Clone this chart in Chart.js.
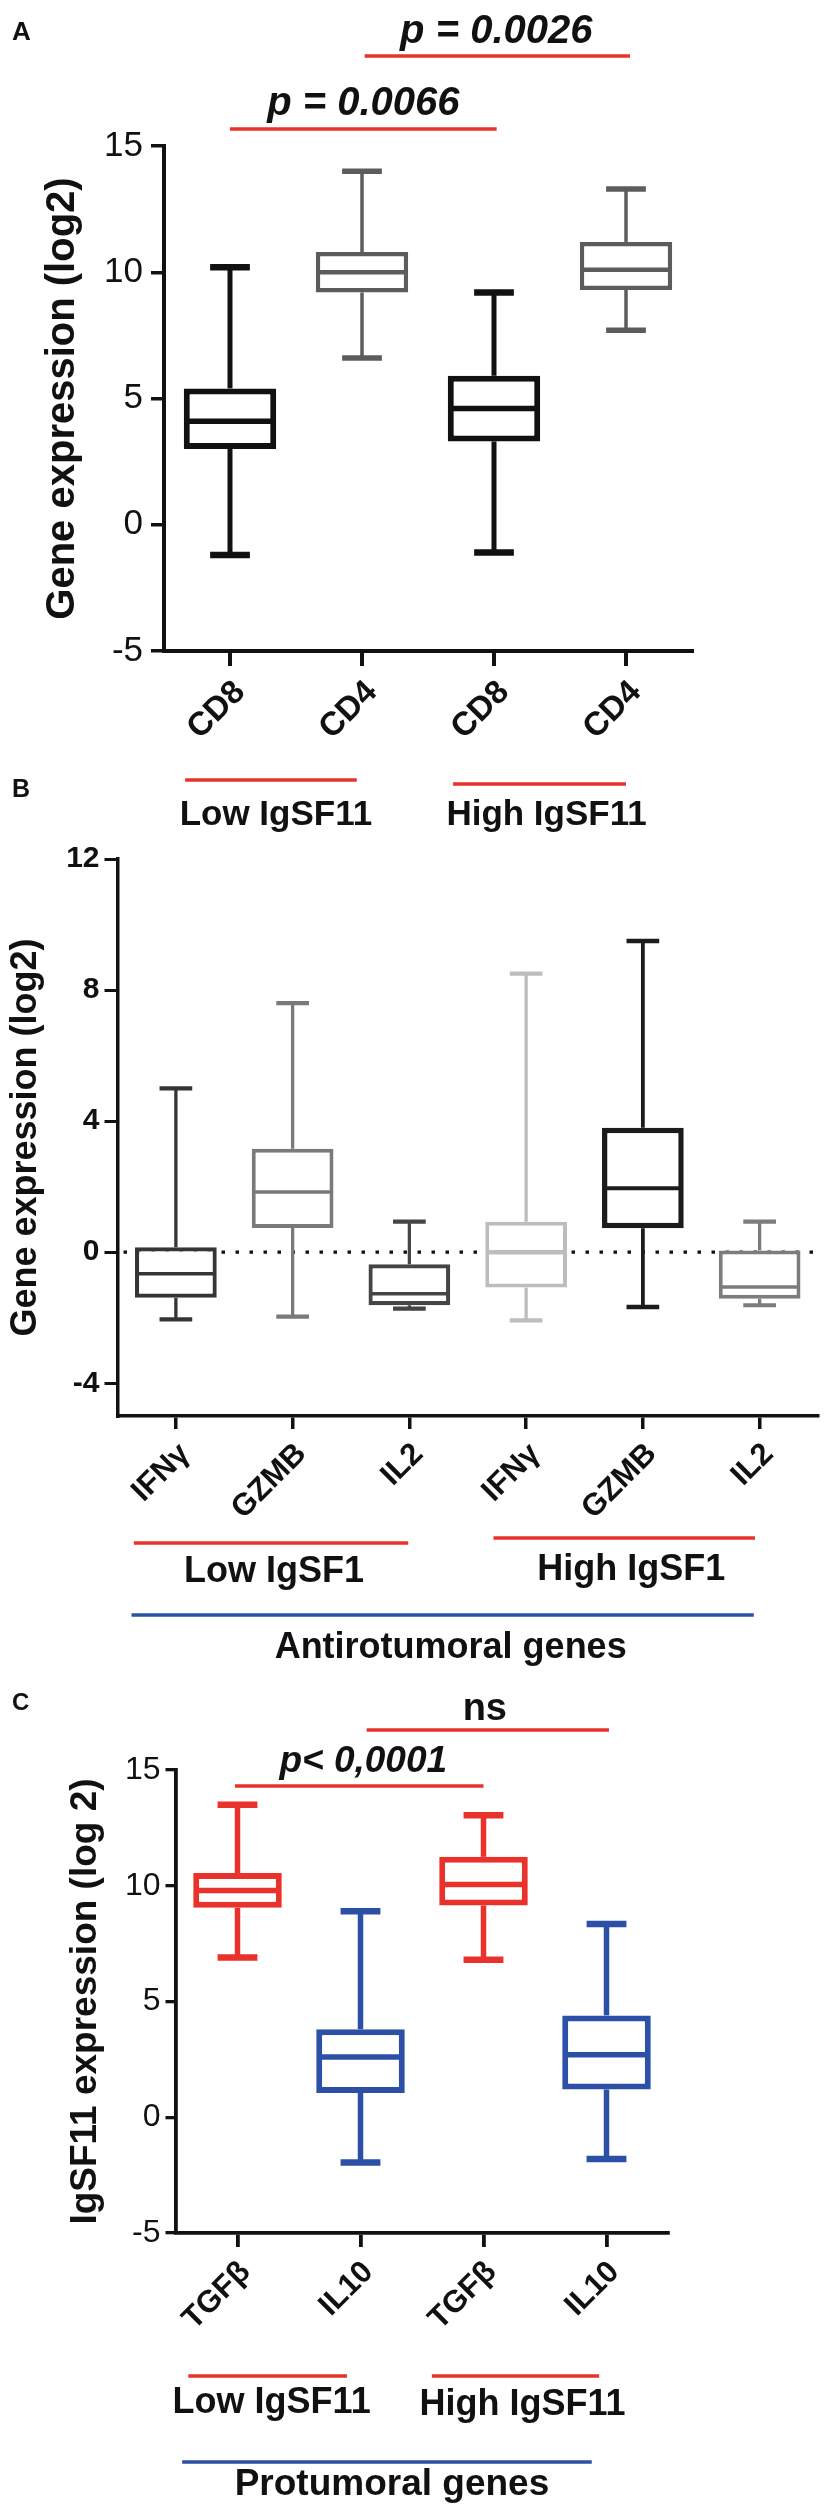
<!DOCTYPE html>
<html>
<head>
<meta charset="utf-8">
<script src="https://cdn.jsdelivr.net/npm/chart.js@4.4.1/dist/chart.umd.min.js"></script>
<style>
  html, body { margin: 0; padding: 0; background: #fff; overflow: hidden; }
  .panel { position: absolute; left: 0; width: 828px; }
  canvas { display: block; }
</style>
</head>
<body>
<div class="panel" style="top:0px"><canvas id="chartA" width="828" height="850"></canvas></div>
<div class="panel" style="top:770px"><canvas id="chartB" width="828" height="910"></canvas></div>
<div class="panel" style="top:1670px"><canvas id="chartC" width="828" height="845"></canvas></div>
<script>
const FONT = "'Liberation Sans', Arial, Helvetica, sans-serif";

// Panel A - CD8 / CD4
const catsA = ['CD8', 'CD4', 'CD8', 'CD4'];
const minA = [-1.2, 6.6, -1.1, 7.7];
const q1A = [3.0, 9.2, 3.3, 9.3];
const medA = [4.1, 10.0, 4.6, 10.1];
const q3A = [5.4, 10.8, 5.9, 11.2];
const maxA = [10.2, 14.0, 9.2, 13.3];
const yTicksA = [-5, 0, 5, 10, 15];

// Panel B - antitumoral genes
const catsB = ['IFNγ', 'GZMB', 'IL2', 'IFNγ', 'GZMB', 'IL2'];
const minB = [-2.05, -1.97, -1.72, -2.08, -1.67, -1.62];
const q1B = [-1.39, 0.74, -1.62, -1.08, 0.73, -1.42];
const medB = [-0.66, 1.84, -1.27, 0.0, 1.95, -1.06];
const q3B = [0.15, 3.16, -0.37, 0.93, 3.8, 0.05];
const maxB = [5.0, 7.6, 0.93, 8.5, 9.5, 0.93];
const yTicksB = [-4, 0, 4, 8, 12];

// Panel C - protumoral genes
const catsC = ['TGFβ', 'IL10', 'TGFβ', 'IL10'];
const minC = [6.9, -1.95, 6.8, -1.8];
const q1C = [9.05, 1.05, 9.15, 1.2];
const medC = [9.8, 2.6, 10.05, 2.7];
const q3C = [10.55, 3.8, 11.25, 4.4];
const maxC = [13.5, 8.9, 13.05, 8.35];
const yTicksC = [-5, 0, 5, 10, 15];

const RED = '#e8322b';
const BLUE = '#2d50a7';

// whiskers, caps and medians on top of the floating bars
const boxWhiskers = {
  id: 'boxWhiskers',
  beforeDatasetsDraw(chart, args, o) {
    if (o.zeroLine === undefined) return;
    const {ctx, chartArea} = chart;
    const y0 = chart.scales.y.getPixelForValue(o.zeroLine);
    ctx.save();
    ctx.strokeStyle = '#111';
    ctx.lineWidth = 3.3;
    ctx.setLineDash([3.5, 10.5]);
    ctx.beginPath();
    ctx.moveTo(chartArea.left + 6, y0);
    ctx.lineTo(chartArea.right, y0);
    ctx.stroke();
    ctx.restore();
  },
  afterDatasetsDraw(chart, args, o) {
    const {ctx} = chart;
    const y = chart.scales.y;
    const meta = chart.getDatasetMeta(0);
    const seg = (x1, y1, x2, y2) => { ctx.beginPath(); ctx.moveTo(x1, y1); ctx.lineTo(x2, y2); ctx.stroke(); };
    meta.data.forEach((bar, i) => {
      const half = bar.width / 2;
      const cap = bar.width * o.cap / 2;
      const yMin = y.getPixelForValue(o.min[i]);
      const yMax = y.getPixelForValue(o.max[i]);
      const yQ1 = y.getPixelForValue(o.q1[i]);
      const yQ3 = y.getPixelForValue(o.q3[i]);
      const yMed = y.getPixelForValue(o.med[i]);
      ctx.save();
      ctx.strokeStyle = o.colors[i];
      ctx.lineWidth = o.stem[i];
      seg(bar.x, yQ3, bar.x, yMax);
      seg(bar.x, yQ1, bar.x, yMin);
      ctx.lineWidth = o.capW[i];
      seg(bar.x - cap, yMax, bar.x + cap, yMax);
      seg(bar.x - cap, yMin, bar.x + cap, yMin);
      ctx.lineWidth = o.medW[i];
      seg(bar.x - half + 1, yMed, bar.x + half - 1, yMed);
      ctx.restore();
    });
  }
};

// p-value brackets, group bars and panel letters
const annotate = {
  id: 'annotate',
  afterDraw(chart, args, o) {
    const {ctx} = chart;
    const x = chart.scales.x;
    ctx.save();
    o.lines.forEach(l => {
      const x1 = x.getPixelForValue(l.from);
      const x2 = x.getPixelForValue(l.to);
      ctx.strokeStyle = l.color;
      ctx.lineWidth = 3.5;
      ctx.beginPath();
      ctx.moveTo(x1, l.y);
      ctx.lineTo(x2, l.y);
      ctx.stroke();
      if (l.text) {
        ctx.fillStyle = '#111';
        ctx.font = l.font;
        ctx.textAlign = 'center';
        ctx.textBaseline = l.baseline || 'middle';
        ctx.fillText(l.text, (x1 + x2) / 2 + (l.dx || 0), l.textY);
      }
    });
    ctx.fillStyle = '#111';
    ctx.font = o.tagFont;
    ctx.textAlign = 'left';
    ctx.textBaseline = 'middle';
    ctx.fillText(o.tag, 12, o.tagY);
    ctx.restore();
  }
};

function boxChart(id, p) {
  return new Chart(document.getElementById(id), {
    type: 'bar',
    data: {
      labels: p.cats,
      datasets: [{
        data: p.q1.map((v, i) => [v, p.q3[i]]),
        backgroundColor: '#ffffff',
        borderColor: p.colors,
        borderWidth: p.boxW,
        borderSkipped: false,
        barPercentage: p.barPct,
        categoryPercentage: 1
      }]
    },
    options: {
      responsive: false,
      animation: false,
      events: [],
      layout: { padding: p.padding },
      plugins: {
        legend: { display: false },
        tooltip: { enabled: false },
        boxWhiskers: {
          min: p.min, q1: p.q1, med: p.med, q3: p.q3, max: p.max,
          colors: p.colors, stem: p.stem, capW: p.capW, medW: p.medW,
          cap: p.cap, zeroLine: p.zeroLine
        },
        annotate: { lines: p.lines, tag: p.tag, tagY: p.tagY, tagFont: p.tagFont }
      },
      scales: {
        x: {
          grid: { offset: false, drawOnChartArea: false, drawTicks: true,
                  tickLength: p.xTickLen, lineWidth: p.axisW, color: '#111' },
          border: { color: '#111', width: p.axisW },
          ticks: { color: '#111', font: p.xFont, minRotation: 45, maxRotation: 45,
                   padding: p.xPad, labelOffset: p.xShift, autoSkip: false },
          afterFit(s) { s.height = p.xHeight; }
        },
        y: {
          min: p.yMin,
          max: p.yMax,
          afterBuildTicks(s) { s.ticks = p.yTicks.map(v => ({ value: v })); },
          grid: { drawOnChartArea: false, drawTicks: true, tickLength: p.yTickLen,
                  lineWidth: p.axisW - 0.5, color: '#111' },
          border: { color: '#111', width: p.axisW },
          ticks: { color: '#111', font: p.yFont, padding: p.yPad },
          title: { display: true, text: p.yTitle, color: '#111', font: p.titleFont,
                   padding: { top: p.titlePad, bottom: 0 } },
          afterFit(s) { s.width = p.yWidth; }
        }
      }
    },
    plugins: [boxWhiskers, annotate]
  });
}

boxChart('chartA', {
  cats: catsA, min: minA, q1: q1A, med: medA, q3: q3A, max: maxA, yTicks: yTicksA,
  yMin: -5, yMax: 15,
  colors: ['#111111', '#5c5c5c', '#111111', '#5c5c5c'],
  boxW: [6, 4.5, 6, 4.5], stem: [5, 3.5, 5, 3.5], capW: [6.5, 5.5, 6.5, 5.5], medW: [5.5, 4.5, 5.5, 4.5],
  barPct: 0.7, cap: 0.43,
  padding: { top: 146, bottom: 94, left: 0, right: 136 },
  yWidth: 164, xHeight: 105,
  xTickLen: 15, yTickLen: 13, axisW: 4, xPad: 7, xShift: 10, yPad: 8,
  xFont: { family: FONT, size: 33, weight: 'bold' },
  yFont: { family: FONT, size: 35 },
  yTitle: 'Gene expression (log2)',
  titleFont: { family: FONT, size: 40, weight: 'bold' }, titlePad: 39.4,
  tag: 'A', tagY: 33, tagFont: 'bold 26px ' + FONT,
  lines: [
    { from: 0, to: 2.02, y: 129, color: RED, text: 'p = 0.0066', textY: 115, baseline: 'alphabetic',
      font: 'italic bold 40px ' + FONT, dx: 0 },
    { from: 1.02, to: 3.03, y: 56, color: RED, text: 'p = 0.0026', textY: 43, baseline: 'alphabetic',
      font: 'italic bold 40px ' + FONT, dx: -1 },
    { from: -0.34, to: 0.96, y: 780, color: RED, text: 'Low IgSF11', textY: 815,
      font: 'bold 35px ' + FONT, dx: 5 },
    { from: 1.69, to: 3.0, y: 784, color: RED, text: 'High IgSF11', textY: 815,
      font: 'bold 35px ' + FONT, dx: 7 }
  ]
});

boxChart('chartB', {
  cats: catsB, min: minB, q1: q1B, med: medB, q3: q3B, max: maxB, yTicks: yTicksB,
  yMin: -5, yMax: 12,
  colors: ['#353535', '#7a7a7a', '#454545', '#bdbdbd', '#1c1c1c', '#7c7c7c'],
  boxW: [4.2, 4, 4.2, 4, 5.5, 4], stem: [3.3, 3.3, 3.3, 3.3, 3.8, 3.3], capW: [4.2, 4.2, 4.2, 4.2, 4.5, 4.2],
  medW: [3.5, 3.5, 3.5, 4.5, 4, 3.5],
  barPct: 0.7, cap: 0.4, zeroLine: 0,
  padding: { top: 89, bottom: 149, left: 0, right: 10 },
  yWidth: 117.5, xHeight: 115,
  xTickLen: 13, yTickLen: 13, axisW: 3.5, xPad: 7, xShift: 9, yPad: 5,
  xFont: { family: FONT, size: 31, weight: 'bold' },
  yFont: { family: FONT, size: 30, weight: 'bold' },
  yTitle: 'Gene expression (log2)',
  titleFont: { family: FONT, size: 36, weight: 'bold' }, titlePad: 4.5,
  tag: 'B', tagY: 20, tagFont: 'bold 25px ' + FONT,
  lines: [
    { from: -0.36, to: 1.99, y: 773, color: RED, text: 'Low IgSF1', textY: 802,
      font: 'bold 36px ' + FONT, dx: 3 },
    { from: 2.72, to: 4.96, y: 768, color: RED, text: 'High IgSF1', textY: 800,
      font: 'bold 36px ' + FONT, dx: 7 },
    { from: -0.38, to: 4.95, y: 845, color: BLUE, text: 'Antirotumoral genes', textY: 878,
      font: 'bold 36px ' + FONT, dx: 8 }
  ]
});

boxChart('chartC', {
  cats: catsC, min: minC, q1: q1C, med: medC, q3: q3C, max: maxC, yTicks: yTicksC,
  yMin: -5, yMax: 15,
  colors: [RED, BLUE, RED, BLUE],
  boxW: [6, 6, 6, 6], stem: [5.5, 5.5, 5.5, 5.5], capW: [6.5, 6.5, 6.5, 6.5], medW: [5.5, 5.5, 5.5, 5.5],
  barPct: 0.72, cap: 0.45,
  padding: { top: 100, bottom: 177, left: 0, right: 160 },
  yWidth: 176, xHeight: 105,
  xTickLen: 14, yTickLen: 10.5, axisW: 3.8, xPad: 7, xShift: 8, yPad: 5,
  xFont: { family: FONT, size: 31, weight: 'bold' },
  yFont: { family: FONT, size: 32 },
  yTitle: 'IgSF11 expression (log 2)',
  titleFont: { family: FONT, size: 37, weight: 'bold' }, titlePad: 63.8,
  tag: 'C', tagY: 33, tagFont: 'bold 24px ' + FONT,
  lines: [
    { from: 1.05, to: 3.02, y: 60, color: RED, text: 'ns', textY: 50, baseline: 'alphabetic',
      font: 'bold 38px ' + FONT, dx: -3 },
    { from: -0.02, to: 2.0, y: 116, color: RED, text: 'p< 0,0001', textY: 101.7, baseline: 'alphabetic',
      font: 'italic bold 37px ' + FONT, dx: 4 },
    { from: -0.40, to: 0.89, y: 706, color: RED, text: 'Low IgSF11', textY: 733,
      font: 'bold 36px ' + FONT, dx: 4 },
    { from: 1.58, to: 2.94, y: 706, color: RED, text: 'High IgSF11', textY: 735,
      font: 'bold 36px ' + FONT, dx: 7 },
    { from: -0.45, to: 2.88, y: 792, color: BLUE, text: 'Protumoral genes', textY: 815,
      font: 'bold 37px ' + FONT, dx: 5 }
  ]
});
</script>
</body>
</html>
